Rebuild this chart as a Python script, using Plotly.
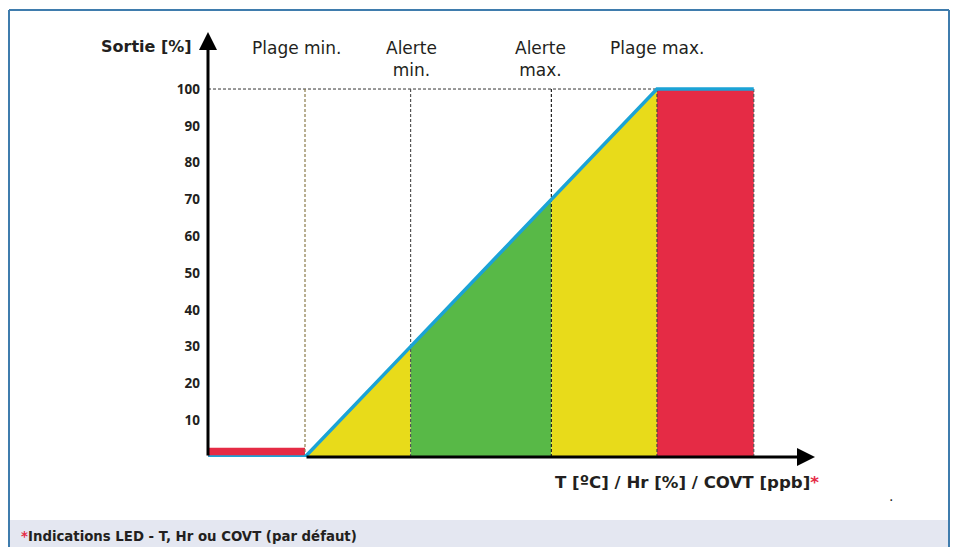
import plotly.graph_objects as go

# ---------------- data ----------------
zone_bounds = [-27.5, 0, 30, 70, 100, 127.5]        # x positions of zone limits
line_output = [0, 0, 30, 70, 100, 100]               # output [%] at each limit
zone_colors = ["#E52B45", "#E8DB1A", "#58B947", "#E8DB1A", "#E52B45"]
low_bar_level = 2.5                                  # height of the small red bar
y_ticks = [10, 20, 30, 40, 50, 60, 70, 80, 90, 100]
zone_labels = ["Plage min.", "Alerte<br>min.", "Alerte<br>max.", "Plage max."]
label_bounds = [0, 30, 70, 100]
label_shift = [-8, 1, -11, 1]

W, H = 954, 547
def px(x):
    return x / W
def py(y):
    return 1 - y / H

X_RANGE = [-27.56, 144.9]
Y_RANGE = [0, 115.5]
FONT = "DejaVu Sans"
TXT = "#231f20"

fig = go.Figure()

# zone fills
for i, col in enumerate(zone_colors):
    x0, x1 = zone_bounds[i], zone_bounds[i + 1]
    if i == 0:
        t0 = t1 = low_bar_level
    else:
        t0, t1 = line_output[i], line_output[i + 1]
    fig.add_trace(go.Scatter(x=[x0, x0, x1, x1, x0], y=[0, t0, t1, 0, 0],
                             fill="toself", fillcolor=col, mode="lines",
                             line=dict(width=0), hoverinfo="skip", showlegend=False))

# horizontal dashed line at 100
fig.add_trace(go.Scatter(x=[X_RANGE[0], zone_bounds[4]], y=[100, 100], mode="lines",
                         line=dict(color="#333", width=1, dash="3px,2px"),
                         hoverinfo="skip", showlegend=False))
# vertical dashed lines
vcols = ["#8a7b4a", "#555", "#222", "#444", "#555"]
for b, c in zip(zone_bounds[1:], vcols):
    idx = zone_bounds.index(b)
    top = 100 if idx < 5 else line_output[idx]
    fig.add_trace(go.Scatter(x=[b, b], y=[0, top], mode="lines",
                             line=dict(color=c, width=1.2, dash="3px,2px"),
                             hoverinfo="skip", showlegend=False))

# output line
fig.add_trace(go.Scatter(x=zone_bounds, y=line_output, mode="lines",
                         line=dict(color="#1BA3D6", width=3.5),
                         hoverinfo="skip", showlegend=False))

# axes arrows
fig.add_annotation(x=144.9, y=0, ax=zone_bounds[1], ay=0, xref="x", yref="y",
                   axref="x", ayref="y", showarrow=True, arrowhead=2,
                   arrowwidth=3, arrowsize=1.2, arrowcolor="#000", text="")
fig.add_annotation(x=X_RANGE[0], y=115.5, ax=X_RANGE[0], ay=0, xref="x", yref="y",
                   axref="x", ayref="y", showarrow=True, arrowhead=2,
                   arrowwidth=3, arrowsize=1.2, arrowcolor="#000", text="")

# zone labels
for lab, b, s in zip(zone_labels, label_bounds, label_shift):
    fig.add_annotation(x=b, y=py(36), xref="x", yref="paper", text=lab,
                       showarrow=False, xanchor="center", yanchor="top",
                       xshift=s, align="center",
                       font=dict(family=FONT, size=17, color=TXT))

# axis titles
fig.add_annotation(x=px(194), y=py(46), xref="paper", yref="paper",
                   text="<b>Sortie [%]</b>", showarrow=False, xanchor="right",
                   yanchor="middle", font=dict(family=FONT, size=16, color=TXT))
fig.add_annotation(x=px(821), y=py(482), xref="paper", yref="paper",
                   text="<b>T [ºC] / Hr [%] / COVT [ppb]<span style='color:#E52B45'>*</span></b>",
                   showarrow=False, xanchor="right", yanchor="middle",
                   font=dict(family=FONT, size=16.6, color=TXT))
fig.add_annotation(x=px(895), y=py(506), xref="paper", yref="paper", text=".",
                   showarrow=False, font=dict(family=FONT, size=14, color=TXT))

# frame and footer
fig.add_shape(type="rect", xref="paper", yref="paper", x0=px(9), x1=px(949),
              y0=py(547), y1=py(520), fillcolor="#E4E7F1", line=dict(width=0), layer="below")
fig.add_shape(type="line", xref="paper", yref="paper", x0=px(9), x1=px(949),
              y0=py(10), y1=py(10), line=dict(color="#3F7CAD", width=2))
fig.add_shape(type="line", xref="paper", yref="paper", x0=px(9), x1=px(9),
              y0=py(10), y1=py(548), line=dict(color="#3F7CAD", width=2))
fig.add_shape(type="line", xref="paper", yref="paper", x0=px(949), x1=px(949),
              y0=py(10), y1=py(548), line=dict(color="#3F7CAD", width=2))
fig.add_annotation(x=px(19), y=py(536), xref="paper", yref="paper",
                   text="<b><span style='color:#E52B45'>*</span>Indications LED - T, Hr ou COVT (par défaut)</b>",
                   showarrow=False, xanchor="left", yanchor="middle",
                   font=dict(family=FONT, size=13.3, color=TXT))

fig.update_layout(
    width=W, height=H, margin=dict(l=0, r=0, t=0, b=0),
    paper_bgcolor="white", plot_bgcolor="white", showlegend=False,
    xaxis=dict(domain=[px(208), px(815)], range=X_RANGE, showgrid=False,
               zeroline=False, showline=False, showticklabels=False, fixedrange=True),
    yaxis=dict(domain=[py(457), py(32)], range=Y_RANGE, showgrid=False,
               zeroline=False, showline=False, tickmode="array", tickvals=y_ticks,
               ticktext=[str(v) for v in y_ticks], ticks="", ticklabelstandoff=7,
               tickfont=dict(family="Noto Sans", size=13.5, color=TXT, weight="bold"),
               fixedrange=True),
)

fig.write_html("out.html", config={"displayModeBar": False},
               post_script="document.body.style.margin='0';document.body.style.overflow='hidden';")
